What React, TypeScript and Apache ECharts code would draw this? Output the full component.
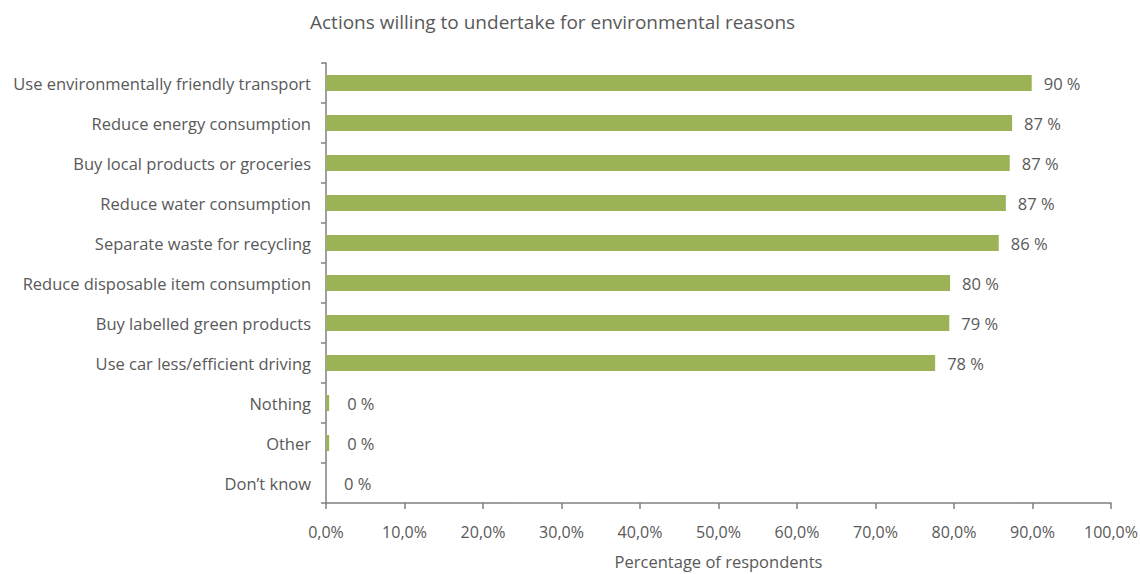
import React, { useEffect, useRef } from "react";
import * as echarts from "echarts";

const categories = [
  "Use environmentally friendly transport",
  "Reduce energy consumption",
  "Buy local products or groceries",
  "Reduce water consumption",
  "Separate waste for recycling",
  "Reduce disposable item consumption",
  "Buy labelled green products",
  "Use car less/efficient driving",
  "Nothing",
  "Other",
  "Don\u2019t know",
];

const values = [89.9, 87.4, 87.1, 86.6, 85.7, 79.5, 79.4, 77.6, 0.4, 0.4, 0];

const xTicks = { min: 0, max: 100, interval: 10 };

const FONT = "'Open Sans', 'Noto Sans', sans-serif";
const TEXT = "#595959";
const AXIS = "#808080";

export default function App() {
  const ref = useRef<HTMLDivElement>(null);
  useEffect(() => {
    if (!ref.current) return;
    const chart = echarts.init(ref.current, undefined, { renderer: "svg" });
    chart.setOption({
      animation: false,
      textStyle: { fontFamily: FONT },
      title: {
        text: "Actions willing to undertake for environmental reasons",
        left: 305,
        top: 7,
        textStyle: { fontFamily: FONT, fontSize: 19, fontWeight: "normal", color: TEXT },
      },
      grid: {
        left: 326,
        right: 29,
        top: 63,
        bottom: 71,
        containLabel: false,
        outerBoundsMode: "none",
      },
      xAxis: {
        type: "value",
        min: xTicks.min,
        max: xTicks.max,
        interval: xTicks.interval,
        name: "Percentage of respondents",
        nameLocation: "middle",
        nameGap: 50,
        nameTextStyle: { fontFamily: FONT, fontSize: 16.5, color: TEXT },
        axisLine: { show: true, lineStyle: { color: AXIS, width: 1.5 } },
        axisTick: { show: true, length: 6, lineStyle: { color: AXIS, width: 1.5 } },
        splitLine: { show: false },
        axisLabel: {
          fontFamily: FONT,
          fontSize: 16,
          color: TEXT,
          margin: 21,
          formatter: (v: number) => v.toFixed(1).replace(".", ",") + "%",
        },
      },
      yAxis: {
        type: "category",
        data: categories,
        inverse: true,
        axisLine: { show: true, lineStyle: { color: AXIS, width: 1.5 } },
        axisTick: { show: true, length: 5, lineStyle: { color: AXIS, width: 1.5 } },
        axisLabel: { fontFamily: FONT, fontSize: 16.5, color: TEXT, margin: 15 },
      },
      series: [
        {
          type: "bar",
          data: values.map((v) => (v < 1 ? { value: v, label: { distance: 18 } } : v)),
          barWidth: 16,
          itemStyle: { color: "#9BB257" },
          label: {
            show: true,
            position: "right",
            distance: 12,
            fontFamily: FONT,
            fontSize: 16.5,
            color: TEXT,
            formatter: (p: any) => Math.round(p.value) + " %",
          },
        },
      ],
    });
    return () => chart.dispose();
  }, []);
  return (
    <div
      ref={ref}
      style={{ position: "fixed", left: 0, top: 0, width: 1140, height: 574, background: "#fff" }}
    />
  );
}
